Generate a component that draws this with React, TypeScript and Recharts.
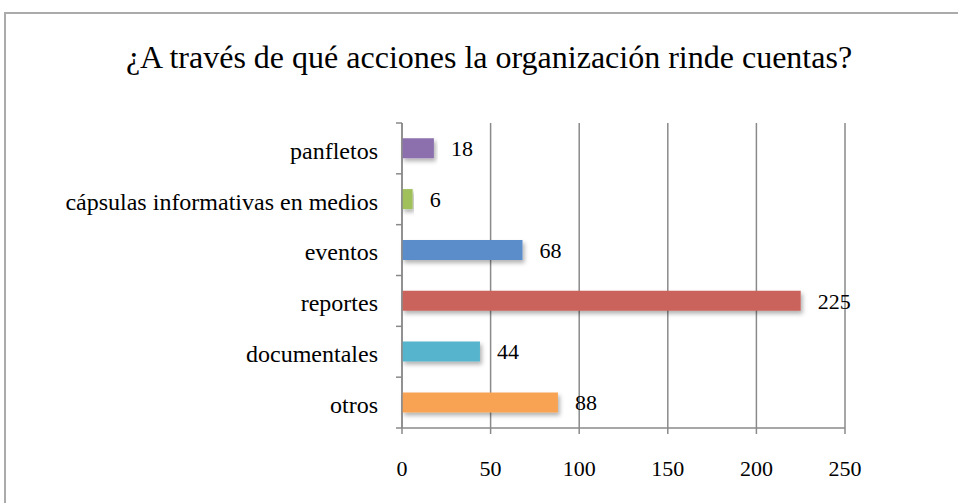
import { BarChart, Bar, XAxis, YAxis, CartesianGrid, Cell, LabelList } from 'recharts';

const categories = ['panfletos', 'cápsulas informativas en medios', 'eventos', 'reportes', 'documentales', 'otros'];
const counts = [18, 6, 68, 225, 44, 88];
const barColors = ['#8c70ae', '#a0c05c', '#5a8dca', '#ca645b', '#57b4cc', '#f8a252'];
const xTicks = [0, 50, 100, 150, 200, 250];

const data = categories.map((name, i) => ({ name, value: counts[i] }));

const FONT = '"Liberation Serif", "Times New Roman", serif';
const PLOT_TOP = 123;
const PLOT_BOTTOM = 428;
const BAND = (PLOT_BOTTOM - PLOT_TOP) / categories.length;

function CategoryTick(props: any) {
  const { x, y, payload, index } = props;
  // recharts hands us axis x minus tickSize (6) and tickMargin (2)
  const axisX = x + 8;
  return (
    <g>
      <line x1={axisX - 6} x2={axisX} y1={y - BAND / 2} y2={y - BAND / 2} stroke="#8a8a8a" strokeWidth={1.5} />
      {index === categories.length - 1 && (
        <line x1={axisX - 6} x2={axisX} y1={y + BAND / 2} y2={y + BAND / 2} stroke="#8a8a8a" strokeWidth={1.5} />
      )}
      <text x={axisX - 24} y={y + 2} dy="0.35em" textAnchor="end" fontFamily={FONT} fontSize={24} fill="#000">
        {payload.value}
      </text>
    </g>
  );
}

export default function App() {
  return (
    <div style={{ position: 'fixed', left: 0, top: 0, width: 958, height: 503, background: '#fff', overflow: 'hidden' }}>
      <div
        style={{
          position: 'absolute',
          left: 4,
          top: 12,
          width: 980,
          height: 520,
          borderTop: '2px solid #ababab',
          borderLeft: '2px solid #ababab',
        }}
      />
      <div
        style={{
          position: 'absolute',
          left: 0,
          top: 39,
          width: 978,
          textAlign: 'center',
          fontFamily: FONT,
          fontSize: 32,
          color: '#000',
          whiteSpace: 'nowrap',
        }}
      >
        ¿A través de qué acciones la organización rinde cuentas?
      </div>
      <div style={{ position: 'absolute', left: 0, top: 0 }}>
        <BarChart
          width={958}
          height={503}
          data={data}
          layout="vertical"
          margin={{ top: PLOT_TOP, right: 113, bottom: 30, left: 22 }}
          barCategoryGap="30%"
        >
          <defs>
            <filter id="barShadow" x="-10%" y="-30%" width="120%" height="190%">
              <feDropShadow dx="2" dy="3" stdDeviation="2" floodColor="#000" floodOpacity="0.3" />
            </filter>
          </defs>
          <CartesianGrid horizontal={false} stroke="#8a8a8a" strokeWidth={1.5} />
          <XAxis
            type="number"
            domain={[0, 250]}
            ticks={xTicks}
            interval={0}
            height={45}
            stroke="#8a8a8a"
            strokeWidth={1.5}
            tickSize={6}
            tickMargin={26}
            tick={{ fontFamily: FONT, fontSize: 22, fill: '#000' }}
          />
          <YAxis
            type="category"
            dataKey="name"
            width={380}
            stroke="#8a8a8a"
            strokeWidth={1.5}
            tickLine={false}
            interval={0}
            tick={<CategoryTick />}
          />
          <Bar dataKey="value" isAnimationActive={false} filter="url(#barShadow)">
            {data.map((d, i) => (
              <Cell key={d.name} fill={barColors[i]} />
            ))}
            <LabelList
              dataKey="value"
              position="right"
              offset={17}
              style={{ fontFamily: FONT, fontSize: 22, fill: '#000' }}
            />
          </Bar>
        </BarChart>
      </div>
    </div>
  );
}
